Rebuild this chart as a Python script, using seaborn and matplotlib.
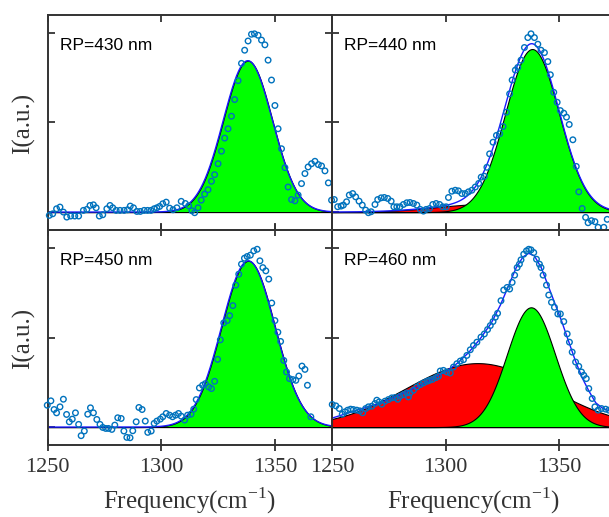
"""
Raman spectra at four RP values with Gaussian peak fits (2x2 panels).
"""

import numpy as np
import matplotlib
matplotlib.use("Agg")
import matplotlib.pyplot as plt
import seaborn as sns


# -------------------------
# Data
# -------------------------
freq_430 = [1250.7, 1252.2, 1253.9, 1255.4, 1256.9, 1258.4, 1260.1, 1261.9, 1263.6, 1265.7,
            1267.2, 1268.6, 1270.1, 1271.3, 1272.7, 1274.2, 1276.0, 1277.4, 1278.6, 1280.1,
            1281.8, 1283.6, 1285.1, 1286.3, 1287.7, 1289.2, 1290.7, 1292.4, 1293.9, 1295.4,
            1296.8, 1298.0, 1299.2, 1300.6, 1302.1, 1303.6, 1305.1, 1306.8, 1308.7, 1310.5,
            1312.0, 1313.4, 1314.6, 1316.1, 1317.5, 1319.0, 1320.5, 1322.0, 1323.4, 1324.9,
            1326.4, 1327.8, 1329.3, 1330.8, 1332.2, 1333.7, 1335.2, 1336.6, 1338.1, 1339.6,
            1340.9, 1342.5, 1344.0, 1345.5, 1346.9, 1348.4, 1349.9, 1351.3, 1352.8, 1354.3,
            1355.7, 1357.2, 1358.7, 1360.1, 1361.6, 1363.1, 1364.5, 1366.0, 1367.5, 1369.0,
            1370.4, 1371.9, 1373.4, 1374.8, 1376.0]
int_430 = [-0.037, -0.019, 0.037, 0.056, 0.0, -0.056, -0.044, -0.044, -0.044, 0.019,
           0.03, 0.074, 0.081, 0.048, -0.044, -0.03, 0.037, 0.074, 0.048, 0.019,
           0.019, 0.019, 0.026, 0.067, 0.048, 0.007, 0.007, 0.019, 0.019, 0.019,
           0.037, 0.048, 0.063, 0.093, 0.111, 0.044, 0.026, 0.048, 0.12, 0.096,
           0.07, 0.015, -0.007, 0.048, 0.133, 0.20, 0.25, 0.344, 0.418, 0.54,
           0.68, 0.826, 0.93, 1.07, 1.256, 1.467, 1.66, 1.807, 1.91, 1.985,
           1.99, 1.974, 1.92, 1.867, 1.696, 1.474, 1.19, 0.93, 0.707, 0.496,
           0.28, 0.14, 0.126, 0.19, 0.318, 0.43, 0.504, 0.54, 0.567, 0.53,
           0.515, 0.46, 0.326, 0.133, 0.14]

freq_440 = [1252.5, 1254.0, 1255.0, 1256.4, 1257.6, 1259.1, 1260.4, 1261.9, 1263.3, 1264.8,
            1266.0, 1267.2, 1268.9, 1270.1, 1271.6, 1273.0, 1274.5, 1276.0, 1277.2, 1278.5,
            1279.9, 1281.4, 1282.9, 1284.3, 1285.8, 1287.3, 1288.8, 1290.2, 1291.4, 1292.9,
            1294.3, 1295.8, 1297.3, 1298.7, 1300.2, 1301.2, 1302.7, 1304.2, 1305.6, 1307.1,
            1308.6, 1310.0, 1311.5, 1313.0, 1314.5, 1315.6, 1317.0, 1318.1, 1319.3, 1320.8,
            1322.3, 1323.7, 1325.2, 1326.7, 1328.1, 1329.2, 1330.6, 1331.7, 1333.1, 1334.6,
            1336.1, 1337.5, 1339.0, 1340.5, 1341.9, 1343.4, 1344.9, 1346.0, 1347.5, 1349.0,
            1350.4, 1351.9, 1353.1, 1354.3, 1355.9, 1357.4, 1358.5, 1360.0, 1361.5, 1362.6,
            1364.1, 1365.6, 1367.0, 1369.5, 1371.0]
int_440 = [0.06, 0.067, 0.078, 0.115, 0.19, 0.207, 0.17, 0.122, 0.078, 0.022,
           -0.007, 0.004, 0.085, 0.14, 0.159, 0.163, 0.152, 0.122, 0.059, 0.059,
           0.059, 0.085, 0.104, 0.107, 0.096, 0.078, 0.03, 0.011, 0.03, 0.04,
           0.085, 0.096, 0.085, 0.059, 0.059, 0.163, 0.233, 0.244, 0.237, 0.207,
           0.207, 0.226, 0.244, 0.28, 0.32, 0.39, 0.40, 0.50, 0.65, 0.78,
           0.856, 0.874, 0.955, 1.115, 1.32, 1.474, 1.585, 1.615, 1.696, 1.837,
           1.948, 1.99, 1.948, 1.874, 1.807, 1.78, 1.68, 1.533, 1.337, 1.226,
           1.133, 1.104, 1.06, 0.978, 0.807, 0.51, 0.226, 0.04, -0.059, -0.119,
           -0.096, -0.107, -0.17, -0.17, -0.081]

freq_450 = [1249.8, 1251.4, 1252.8, 1253.9, 1255.4, 1256.9, 1258.3, 1259.5, 1260.8, 1262.2,
            1263.6, 1264.7, 1266.1, 1267.6, 1268.8, 1270.1, 1271.6, 1273.0, 1274.2, 1275.5,
            1276.7, 1278.2, 1279.5, 1280.8, 1282.3, 1283.5, 1284.8, 1286.2, 1287.4, 1288.9,
            1290.1, 1291.5, 1292.9, 1294.0, 1295.5, 1296.8, 1298.0, 1299.5, 1300.6, 1302.1,
            1303.6, 1304.9, 1306.2, 1307.5, 1308.7, 1310.2, 1311.5, 1313.0, 1314.2, 1315.3,
            1316.7, 1318.1, 1319.3, 1320.8, 1322.0, 1323.4, 1324.7, 1325.9, 1327.4, 1328.9,
            1330.0, 1331.4, 1332.7, 1334.0, 1335.2, 1336.5, 1337.7, 1339.1, 1340.6, 1342.1,
            1343.3, 1344.6, 1345.9, 1347.2, 1348.5, 1349.9, 1351.2, 1352.4, 1353.8, 1355.0,
            1356.3, 1357.8, 1359.1, 1360.4, 1361.8, 1363.1, 1364.2, 1365.7]
int_450 = [0.244, 0.293, 0.196, 0.159, 0.226, 0.311, 0.141, 0.059, 0.089, 0.159,
           0.03, -0.096, -0.044, 0.144, 0.215, 0.159, 0.085, 0.03, -0.004, -0.015,
           -0.015, -0.026, 0.022, 0.104, 0.096, -0.044, -0.115, -0.119, -0.041, 0.059,
           0.219, 0.196, 0.067, -0.059, -0.044, 0.041, 0.067, 0.089, 0.115, 0.152,
           0.133, 0.115, 0.133, 0.152, 0.122, 0.078, 0.133, 0.144, 0.2, 0.307,
           0.437, 0.467, 0.485, 0.448, 0.43, 0.511, 0.756, 0.974, 1.163, 1.189,
           1.244, 1.356, 1.585, 1.707, 1.819, 1.885, 1.904, 1.919, 1.967, 1.985,
           1.856, 1.78, 1.744, 1.652, 1.385, 1.189, 1.059, 0.956, 0.744, 0.615,
           0.541, 0.53, 0.522, 0.57, 0.681, 0.644, 0.467, 0.115]

freq_460 = [1250.1, 1251.7, 1253.2, 1254.5, 1255.7, 1256.9, 1258.2, 1259.4, 1260.9, 1262.3,
            1263.5, 1264.8, 1266.0, 1267.5, 1268.9, 1269.7, 1270.7, 1271.9, 1273.3, 1274.8,
            1276.3, 1277.7, 1278.9, 1279.9, 1281.4, 1282.9, 1283.6, 1284.3, 1285.8, 1287.3,
            1288.8, 1290.2, 1291.7, 1292.9, 1294.2, 1295.7, 1296.8, 1297.6, 1299.0, 1300.5,
            1302.0, 1303.4, 1304.9, 1306.4, 1307.8, 1309.3, 1310.8, 1312.2, 1313.7, 1315.5,
            1317.0, 1318.4, 1319.6, 1320.8, 1321.8, 1322.8, 1324.3, 1325.5, 1327.0, 1328.1,
            1329.2, 1330.3, 1331.4, 1332.4, 1333.1, 1334.3, 1335.5, 1336.5, 1337.5, 1338.7,
            1339.9, 1341.2, 1341.9, 1342.8, 1344.3, 1345.3, 1346.5, 1347.8, 1349.3, 1350.4,
            1351.9, 1353.4, 1354.4, 1355.6, 1357.1, 1358.5, 1359.7, 1360.7, 1361.8, 1362.9,
            1364.4, 1365.6, 1367.0, 1368.5, 1370.3, 1371.7]
int_460 = [0.252, 0.237, 0.207, 0.144, 0.17, 0.189, 0.2, 0.196, 0.189, 0.181,
           0.159, 0.207, 0.226, 0.233, 0.263, 0.3, 0.281, 0.256, 0.289, 0.307,
           0.326, 0.33, 0.311, 0.344, 0.363, 0.381, 0.337, 0.381, 0.411, 0.448,
           0.474, 0.493, 0.511, 0.522, 0.533, 0.552, 0.567, 0.626, 0.633, 0.615,
           0.604, 0.67, 0.707, 0.737, 0.752, 0.8, 0.863, 0.911, 0.948, 1.004,
           1.04, 1.089, 1.133, 1.178, 1.226, 1.27, 1.411, 1.53, 1.559, 1.541,
           1.615, 1.696, 1.781, 1.819, 1.867, 1.93, 1.967, 1.985, 1.978, 1.948,
           1.874, 1.819, 1.781, 1.696, 1.585, 1.474, 1.393, 1.337, 1.263, 1.263,
           1.178, 1.04, 0.948, 0.837, 0.726, 0.678, 0.615, 0.578, 0.541, 0.43,
           0.319, 0.226, 0.189, 0.207, 0.2, 0.189]

# total fit curve of the 460 nm panel, read point by point
fit_freq_460 = [1250, 1255, 1260, 1265, 1270, 1275, 1280, 1285, 1290, 1295, 1300,
                1305, 1310, 1315, 1320, 1324, 1328, 1331, 1334, 1336.5, 1339,
                1342, 1345, 1348, 1351, 1354, 1357, 1360, 1363, 1366, 1369, 1372, 1375]
fit_int_460 = [0.10, 0.14, 0.18, 0.22, 0.26, 0.31, 0.36, 0.42, 0.48, 0.55, 0.62,
               0.71, 0.83, 0.98, 1.16, 1.36, 1.60, 1.78, 1.90, 1.94, 1.91,
               1.78, 1.58, 1.38, 1.18, 0.96, 0.74, 0.55, 0.40, 0.27, 0.21, 0.18, 0.16]

# Gaussian fit components: (centre, sigma, height)
red_440 = (1318.0, 22.0, 0.09)
green_440 = (1338.0, 11.8, 1.82)
green_430 = (1338.0, 10.8, 1.69)
green_450 = (1338.2, 11.7, 1.856)
red_460 = (1314.0, 31.5, 0.714)
green_460 = (1337.5, 10.6, 1.337)

labels = ["RP=430 nm", "RP=440 nm", "RP=450 nm", "RP=460 nm"]

GREEN = "#00ff00"
RED = "#ff0000"
FIT = "#1a1aff"
DOTS = "#0072BD"
AXC = "#333333"


def gauss(x, comp):
    c, s, h = comp
    return h * np.exp(-0.5 * ((x - c) / s) ** 2)


def draw_panel(ax, freq, inten, comps, label, fit=None):
    x = np.linspace(1250, 1375, 600)
    total = np.zeros_like(x)
    for comp, color in comps:
        y = gauss(x, comp)
        ax.fill_between(x, 0, y, facecolor=color, edgecolor="black",
                        linewidth=0.8, zorder=1)
        total += y

    if fit is None:
        sns.lineplot(x=x, y=total, color=FIT, linewidth=1.0, ax=ax, zorder=2)
    else:
        sns.lineplot(x=fit[0], y=fit[1], color=FIT, linewidth=1.0, ax=ax,
                     zorder=2, sort=False)

    sns.scatterplot(x=freq, y=inten, ax=ax, color=DOTS, facecolor="none",
                    edgecolor=DOTS, s=16, linewidth=1.0, marker="o",
                    zorder=3, clip_on=False)

    ax.set_xlim(1250, 1375)
    ax.set_ylim(-0.2, 2.2)
    ax.set_xticks([1250, 1300, 1350])
    ax.set_yticks([0, 1, 2])
    ax.set_yticklabels([])
    ax.set_xlabel("")
    ax.set_ylabel("")
    ax.set_facecolor("none")
    for sp in ax.spines.values():
        sp.set_color(AXC)
        sp.set_linewidth(1.4)
    ax.tick_params(direction="in", top=True, right=True, length=5,
                   width=1.3, color=AXC, labelcolor=AXC, labelsize=16)
    ax.text(0.042, 0.86, label, transform=ax.transAxes, fontsize=12.5,
            family="Liberation Sans", color="black", va="center", ha="left")


sns.set_style("ticks")
plt.rcParams["font.family"] = ["Liberation Serif", "DejaVu Serif"]
plt.rcParams["mathtext.fontset"] = "custom"
plt.rcParams["mathtext.rm"] = "Liberation Serif"

fig = plt.figure(figsize=(6.09, 5.17), dpi=100)

W = 284.3 / 609
H = 215 / 517
L0 = 47.7 / 609
L1 = 332 / 609
B_top = 1 - 230 / 517
B_bot = 1 - 445 / 517

ax1 = fig.add_axes([L0, B_top, W, H])
ax2 = fig.add_axes([L1, B_top, W, H])
ax3 = fig.add_axes([L0, B_bot, W, H])
ax4 = fig.add_axes([L1, B_bot, W, H])

draw_panel(ax1, freq_430, int_430, [(green_430, GREEN)], labels[0])
draw_panel(ax2, freq_440, int_440, [(red_440, RED), (green_440, GREEN)], labels[1])
draw_panel(ax3, freq_450, int_450, [(green_450, GREEN)], labels[2])
draw_panel(ax4, freq_460, int_460, [(red_460, RED), (green_460, GREEN)], labels[3],
           fit=(fit_freq_460, fit_int_460))

for ax in (ax1, ax2):
    ax.set_xticklabels([])
for ax in (ax3, ax4):
    ax.tick_params(axis="x", direction="inout", length=9, pad=5)

# shared axis titles
for yc in (1 - 123 / 517, 1 - 338 / 517):
    fig.text(24 / 609, yc, "I(a.u.)", rotation=90, fontsize=18, color=AXC,
             ha="center", va="center")
for xc in (190 / 609, 474 / 609):
    fig.text(xc, 0.017, "Frequency(cm$^{\\mathregular{-1}}$)", fontsize=18,
             color=AXC, ha="center", va="baseline")

fig.savefig("out.png", dpi=100)
